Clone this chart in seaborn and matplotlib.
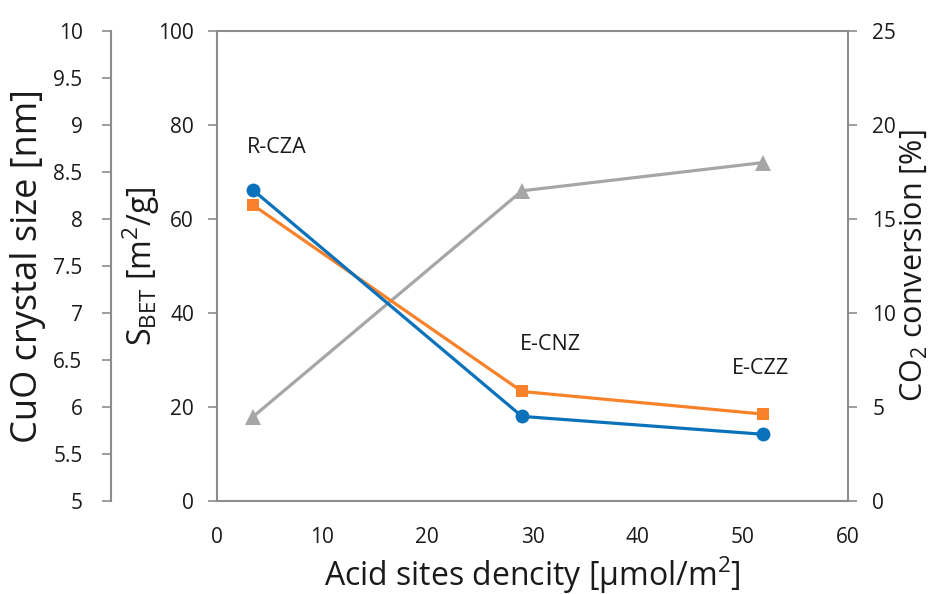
import matplotlib
matplotlib.use("Agg")
import matplotlib.pyplot as plt
import seaborn as sns
import pandas as pd

# ---- data ----
samples = ["R-CZA", "E-CNZ", "E-CZZ"]
acid_density = [3.4, 29.0, 51.9]
cuo_size = [8.31, 5.90, 5.71]
s_bet = [63.0, 23.3, 18.5]
co2_conv = [4.47, 16.5, 18.0]
label_x = [5.7, 31.7, 51.7]
label_y = [75.3, 33.2, 28.1]
x_ticks = [0, 10, 20, 30, 40, 50, 60]
sbet_ticks = [0, 20, 40, 60, 80, 100]
cuo_ticks = [5, 5.5, 6, 6.5, 7, 7.5, 8, 8.5, 9, 9.5, 10]
co2_ticks = [0, 5, 10, 15, 20, 25]

sns.set_style("white")
plt.rcParams['font.family'] = ['Open Sans', 'DejaVu Sans']
plt.rcParams['mathtext.fontset'] = 'custom'
plt.rcParams['mathtext.rm'] = 'Open Sans'
plt.rcParams['mathtext.it'] = 'Open Sans'

df = pd.DataFrame({"x": acid_density, "cuo": cuo_size, "sbet": s_bet, "co2": co2_conv})

blue = "#0A72BA"
orange = "#F7822A"
gray = "#A6A6A6"
spine_c = "#8C8C8C"
txt_c = "#1a1a1a"

dpi = 100
fig = plt.figure(figsize=(9.41, 5.94), dpi=dpi)
ax = fig.add_axes([217/941, 1-501/594, (848-217)/941, (501-31)/594])
ax_cuo = ax.twinx()
ax_co2 = ax.twinx()

sns.lineplot(data=df, x="x", y="co2", ax=ax_co2, color=gray, marker="^", markersize=11,
             linewidth=2.3, markeredgewidth=0)
sns.lineplot(data=df, x="x", y="sbet", ax=ax, color=orange, marker="s", markersize=8.5,
             linewidth=2.3, markeredgewidth=0)
sns.lineplot(data=df, x="x", y="cuo", ax=ax_cuo, color=blue, marker="o", markersize=10,
             linewidth=2.3, markeredgewidth=0)

ax.set_xlim(0, 60)
ax.set_ylim(0, 100)
ax_cuo.set_ylim(5, 10)
ax_co2.set_ylim(0, 25)
ax.set_xticks(x_ticks)
ax.set_yticks(sbet_ticks)
ax_cuo.set_yticks(cuo_ticks)
ax_cuo.set_yticklabels([f"{v:g}" for v in cuo_ticks])
ax_co2.set_yticks(co2_ticks)

for s in ["left", "right", "top", "bottom"]:
    ax.spines[s].set_color(spine_c)
    ax.spines[s].set_linewidth(1.5)
for a in (ax_cuo, ax_co2):
    for s in a.spines.values():
        s.set_visible(False)

ax_cuo.yaxis.set_ticks_position("left")
ax_cuo.yaxis.set_label_position("left")
ax_cuo.spines["left"].set_visible(True)
ax_cuo.spines["left"].set_position(("outward", (217-111)*72/dpi))
ax_cuo.spines["left"].set_color(spine_c)
ax_cuo.spines["left"].set_linewidth(1.5)

ax_co2.yaxis.set_ticks_position("right")
ax_co2.yaxis.set_label_position("right")

tick_kw = dict(direction="out", length=6.5, width=1.2, color=spine_c, labelsize=15,
               labelcolor=txt_c)
ax.tick_params(axis="y", pad=10, **tick_kw)
ax.tick_params(axis="x", pad=12, **tick_kw)
ax_cuo.tick_params(axis="y", pad=14, **tick_kw)
ax_co2.tick_params(axis="y", pad=11, **tick_kw)

ax.set_xlabel("Acid sites dencity [μmol/m$^2$]", fontsize=23, color=txt_c)
ax.set_ylabel("S$_{\\mathrm{BET}}$ [m$^2$/g]", fontsize=23, color=txt_c)
ax_cuo.set_ylabel("CuO crystal size [nm]", fontsize=26, color=txt_c)
ax_co2.set_ylabel("CO$_2$ conversion [%]", fontsize=22, color=txt_c)

ax.xaxis.set_label_coords(0.5, (501-575)/470)
ax.xaxis.label.set_verticalalignment("center")
ax.yaxis.set_label_coords((141-217)/631, 0.5)
ax.yaxis.label.set_verticalalignment("center")
ax_cuo.yaxis.set_label_coords((28-217)/631, 0.5)
ax_cuo.yaxis.label.set_verticalalignment("center")
ax_co2.yaxis.set_label_coords((914-217)/631, 0.5)
ax_co2.yaxis.label.set_verticalalignment("center")

for name, lx, ly in zip(samples, label_x, label_y):
    ax.text(lx, ly, name, fontsize=15.5, ha="center", va="center", color=txt_c)

ax.set_zorder(ax_co2.get_zorder() + 1)
ax.patch.set_visible(False)
ax_cuo.set_zorder(ax.get_zorder() + 1)

fig.savefig("out.png", dpi=dpi)
